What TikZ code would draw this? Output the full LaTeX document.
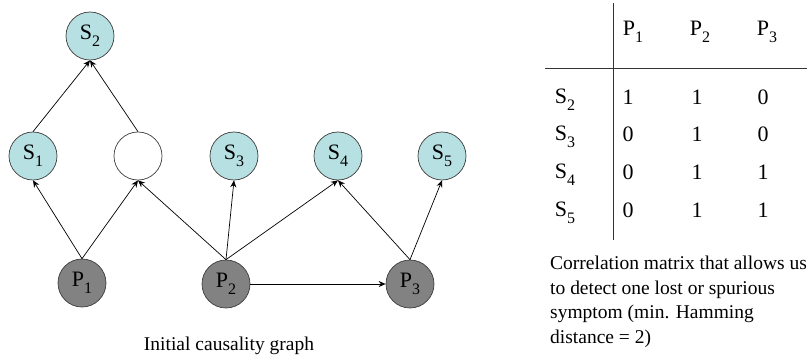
\documentclass[tikz,border=0pt]{standalone}
\usepackage{fontspec}
\setmainfont{Liberation Serif}
\usetikzlibrary{arrows.meta, positioning}

\definecolor{symfill}{RGB}{182,224,226}
\definecolor{probfill}{RGB}{130,130,130}
\definecolor{rimcol}{RGB}{60,60,60}
\newcommand{\idx}[2]{#1\raisebox{-0.3em}{\fontsize{16}{16}\selectfont #2}}

\begin{document}
\begin{tikzpicture}[
        x=1pt, y=-1pt,
        symnode/.style={circle, draw=rimcol, line width=0.7pt, fill=symfill, minimum size=48pt, inner sep=0pt, font=\fontsize{22}{22}\selectfont},
        emptynode/.style={symnode, fill=white},
        probnode/.style={symnode, fill=probfill},
        cell/.style={font=\fontsize{22}{22}\selectfont, inner sep=0pt},
        caption/.style={font=\fontsize{19.5}{24.5}\selectfont, align=left, inner sep=0pt},
        arrow/.style={-{Stealth[length=7pt, width=6pt]}, line width=0.7pt}
    ]
    \useasboundingbox (0,0) rectangle (807,361);

    % Graph nodes
    \node[symnode] (s2) at (90,36) {\idx{S}{2}};
    \node[symnode] (s1) at (33,156) {\idx{S}{1}};
    \node[emptynode] (blank) at (138,156) {};
    \node[symnode] (s3) at (234,156) {\idx{S}{3}};
    \node[symnode] (s4) at (338,156) {\idx{S}{4}};
    \node[symnode] (s5) at (442,156) {\idx{S}{5}};
    \node[probnode] (p1) at (82,283) {\idx{P}{1}};
    \node[probnode] (p2) at (226,284) {\idx{P}{2}};
    \node[probnode] (p3) at (410,284) {\idx{P}{3}};

    \node[caption] (graphcap) at (229,346) {Initial causality graph};

    % Arrows
    \draw[arrow] (s1.north) -- (s2.south);
    \draw[arrow] (blank.north) -- (s2.south);
    \draw[arrow] (p1.north) -- (s1.south);
    \draw[arrow] (p1.north) -- (blank.south);
    \draw[arrow] (p2.north) -- (blank.south);
    \draw[arrow] (p2.north) -- (s3.south);
    \draw[arrow] (p2.north) -- (s4.south);
    \draw[arrow] (p3.north) -- (s4.south);
    \draw[arrow] (p3.north) -- (s5.south);
    \draw[arrow] (p2) -- (p3);

    % Correlation matrix
    \node[cell] (hp1) at (633,32) {\idx{P}{1}};
    \node[cell] (hp2) at (700,32) {\idx{P}{2}};
    \node[cell] (hp3) at (767,32) {\idx{P}{3}};

    \node[cell] (rs2) at (565,100) {\idx{S}{2}};
    \node[cell] (rs3) at (565,137) {\idx{S}{3}};
    \node[cell] (rs4) at (565,175) {\idx{S}{4}};
    \node[cell] (rs5) at (565,213) {\idx{S}{5}};

    \node[cell] (v21) at (628,97) {1};
    \node[cell] (v22) at (697,97) {1};
    \node[cell] (v23) at (763,97) {0};
    \node[cell] (v31) at (628,134) {0};
    \node[cell] (v32) at (697,134) {1};
    \node[cell] (v33) at (763,134) {0};
    \node[cell] (v41) at (628,172) {0};
    \node[cell] (v42) at (697,172) {1};
    \node[cell] (v43) at (763,172) {1};
    \node[cell] (v51) at (628,210) {0};
    \node[cell] (v52) at (697,210) {1};
    \node[cell] (v53) at (763,210) {1};

    \coordinate (vtop) at (613,3);
    \coordinate (vbot) at (613,240);
    \coordinate (hleft) at (545,68);
    \coordinate (hright) at (807,68);
    \draw[line width=0.8pt, black!80] (vtop) -- (vbot);
    \draw[line width=0.8pt, black!80] (hleft) -- (hright);

    \node[caption, anchor=north west] (matcap) at (550,256) {Correlation matrix that allows us\\to detect one lost or spurious\\symptom (min. Hamming\\distance = 2)};

\end{tikzpicture}
\end{document}
